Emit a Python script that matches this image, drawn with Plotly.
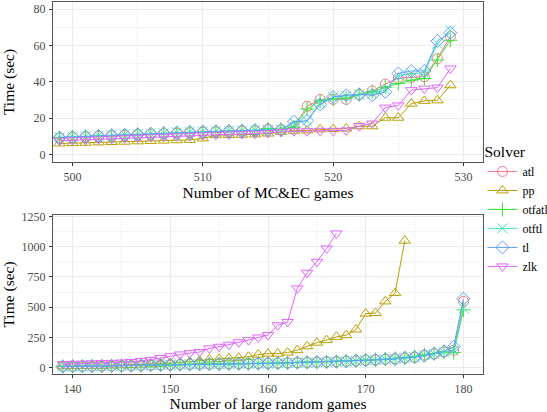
import plotly.graph_objects as go

solvers = ["atl", "pp", "otfatl", "otftl", "tl", "zlk"]
colors = {"atl": "#F8768A", "pp": "#B8A000", "otfatl": "#33E833", "otftl": "#3DE8B8",
          "tl": "#5FA0FF", "zlk": "#E066FF"}
symbols = {"atl": "circle-open", "pp": "triangle-up-open", "otfatl": "cross-thin-open",
           "otftl": "x-thin-open", "tl": "diamond-open", "zlk": "triangle-down-open"}

# ---- Top panel: MC&EC games (499..529) ----
mc_games = list(range(499, 530))
mc_atl = [9.0, 9.3, 9.6, 9.9, 10.2, 10.5, 10.8, 11.1, 11.4, 11.7, 12.0, 12.2, 12.4, 12.6, 12.8, 13.0,
          14.0, 13.5, 15.5, 26.5, 30.3, 30.3, 30.3, 33.0, 35.0, 38.7, 42.0, 42.4, 42.8, 52.8, 65.0]
mc_otfatl = [9.2, 9.5, 9.8, 10.1, 10.4, 10.7, 11.0, 11.3, 11.6, 11.9, 12.2, 12.4, 12.6, 12.8, 13.0, 13.2,
             14.2, 13.8, 15.0, 25.0, 29.5, 30.5, 31.0, 33.0, 34.5, 37.0, 39.0, 40.9, 41.8, 52.0, 62.9]
mc_tl = [9.3, 9.6, 9.9, 10.2, 10.5, 10.8, 11.1, 11.4, 11.7, 12.0, 12.3, 12.5, 12.7, 12.9, 13.1, 13.3,
         13.4, 13.6, 18.0, 18.5, 27.5, 31.7, 32.6, 33.0, 32.6, 34.5, 44.6, 46.0, 46.0, 62.5, 67.1]
mc_otftl = [9.4, 9.7, 10.0, 10.3, 10.6, 10.9, 11.2, 11.5, 11.8, 12.1, 12.4, 12.6, 12.8, 13.0, 13.2, 13.4,
            13.5, 13.7, 17.5, 18.5, 28.5, 31.5, 32.2, 33.0, 33.5, 35.5, 43.5, 44.5, 45.0, 61.0, 68.4]
mc_pp = [6.0, 6.2, 6.4, 6.6, 6.8, 7.0, 7.2, 7.4, 7.6, 7.8, 8.0, 8.8, 10.6, 10.7, 10.8, 11.0, 11.5,
         12.4, 13.0, 13.2, 13.8, 14.0, 14.3, 15.5, 15.5, 20.2, 20.2, 28.0, 29.5, 29.8, 38.1]
mc_zlk = [7.5, 7.8, 8.0, 8.3, 8.6, 8.9, 9.2, 9.5, 9.8, 10.0, 10.3, 10.6, 10.8, 11.0, 11.2, 11.4, 11.8,
          12.4, 12.8, 12.8, 13.0, 13.0, 13.2, 15.6, 17.0, 25.8, 27.0, 35.4, 36.3, 36.8, 47.3]

# ---- Bottom panel: large random games ----
rnd_games = list(range(139, 181))
rnd_atl = [10, 11, 12, 13, 14, 15, 16, 18, 19, 21, 23, 25, 27, 28, 29, 30, 31, 32, 33, 34, 35,
           36, 38, 40, 42, 44, 46, 48, 50, 53, 57, 62, 65, 70, 75, 80, 88, 105, 115, 130, 145, 548]
rnd_otfatl = [11, 12, 13, 14, 15, 16, 17, 19, 20, 22, 24, 26, 28, 29, 30, 31, 32, 33, 34, 35, 36,
              37, 39, 41, 43, 45, 47, 49, 51, 54, 58, 63, 66, 71, 76, 82, 92, 108, 118, 132, 125, 478]
rnd_otftl = [9, 10, 11, 12, 13, 14, 15, 17, 18, 20, 22, 24, 26, 27, 28, 29, 30, 31, 32, 33, 34,
             35, 37, 39, 41, 43, 45, 47, 49, 52, 56, 61, 64, 69, 74, 79, 86, 103, 113, 128, 140, 490]
rnd_tl = [10, 11, 12, 13, 14, 15, 16, 18, 19, 21, 23, 25, 27, 28, 29, 30, 31, 32, 33, 34, 35,
          36, 38, 40, 42, 44, 46, 48, 50, 53, 57, 62, 65, 70, 70, 82, 86, 98, 115, 135, 173, 570]
rnd_pp_games = list(range(139, 175))
rnd_pp = [12, 13, 14, 15, 16, 18, 20, 22, 25, 28, 32, 36, 42, 49, 57, 68, 73, 77, 82, 90, 108, 116,
          116, 125, 145, 177, 207, 228, 255, 269, 316, 447, 452, 548, 617, 1050]
rnd_zlk_games = list(range(139, 168))
rnd_zlk = [30, 32, 34, 36, 38, 40, 43, 47, 55, 65, 80, 95, 110, 120, 130, 160, 173, 190, 210, 228,
           250, 270, 350, 378, 655, 785, 875, 985, 1110]

top = {"atl": (mc_games, mc_atl), "pp": (mc_games, mc_pp), "otfatl": (mc_games, mc_otfatl),
       "otftl": (mc_games, mc_otftl), "tl": (mc_games, mc_tl), "zlk": (mc_games, mc_zlk)}
bottom = {"atl": (rnd_games, rnd_atl), "pp": (rnd_pp_games, rnd_pp), "otfatl": (rnd_games, rnd_otfatl),
          "otftl": (rnd_games, rnd_otftl), "tl": (rnd_games, rnd_tl), "zlk": (rnd_zlk_games, rnd_zlk)}

FONT = "Liberation Serif"
fig = go.Figure()
for s in solvers:
    x, y = top[s]
    fig.add_trace(go.Scatter(x=x, y=y, mode="lines+markers", name=s, legendgroup=s,
                             line=dict(color=colors[s], width=1),
                             marker=dict(symbol=symbols[s], size=10, color=colors[s],
                                         line=dict(color=colors[s], width=1)),
                             xaxis="x", yaxis="y"))
for s in solvers:
    x, y = bottom[s]
    fig.add_trace(go.Scatter(x=x, y=y, mode="lines+markers", name=s, legendgroup=s, showlegend=False,
                             line=dict(color=colors[s], width=1),
                             marker=dict(symbol=symbols[s], size=10, color=colors[s],
                                         line=dict(color=colors[s], width=1)),
                             xaxis="x2", yaxis="y2"))

axis_common = dict(showline=True, mirror=True, linecolor="#555555", linewidth=1,
                   ticks="outside", ticklen=3, tickcolor="#333333", ticklabelstandoff=1,
                   tickfont=dict(family=FONT, size=12, color="#4D4D4D"),
                   gridcolor="#EBEBEB", gridwidth=1, zeroline=False, automargin=False,
                   title_font=dict(family=FONT, size=15.5, color="black"))

fig.update_layout(
    width=547, height=412,
    margin=dict(l=53, r=64, t=2, b=38, autoexpand=False),
    paper_bgcolor="white", plot_bgcolor="white",
    font=dict(family=FONT, color="black"),
    xaxis=dict(domain=[0, 1], anchor="y", range=[498.5, 531.5], tickvals=[500, 510, 520, 530],
               minor=dict(dtick=5, tick0=495, showgrid=True, gridcolor="#F4F4F4", ticks=""),
               title=dict(text="Number of MC&EC games", standoff=1), **axis_common),
    yaxis=dict(domain=[0.5699, 1.0], anchor="x", range=[-4.2, 84], tickvals=[0, 20, 40, 60, 80],
               minor=dict(dtick=10, tick0=0, showgrid=True, gridcolor="#F4F4F4", ticks=""),
               title=dict(text="Time (sec)", standoff=21), **axis_common),
    xaxis2=dict(domain=[0, 1], anchor="y2", range=[138, 182], tickvals=[140, 150, 160, 170, 180],
                minor=dict(dtick=5, tick0=135, showgrid=True, gridcolor="#F4F4F4", ticks=""),
                title=dict(text="Number of large random games", standoff=0), **axis_common),
    yaxis2=dict(domain=[0.0, 0.4274], anchor="x2", range=[-52, 1262],
                tickvals=[0, 250, 500, 750, 1000, 1250],
                minor=dict(dtick=125, tick0=0, showgrid=True, gridcolor="#F4F4F4", ticks=""),
                title=dict(text="Time (sec)", standoff=11), **axis_common),
    legend=dict(xref="container", yref="container", x=0.882, xanchor="left",
                y=0.668, yanchor="top",
                title=dict(text="Solver", font=dict(family=FONT, size=15.5, color="black")),
                font=dict(family=FONT, size=12, color="black"),
                bgcolor="rgba(0,0,0,0)", tracegroupgap=0, itemwidth=30),
)

fig.write_html("out.html", post_script="document.body.style.margin='0px';",
               config={"displayModeBar": False})
